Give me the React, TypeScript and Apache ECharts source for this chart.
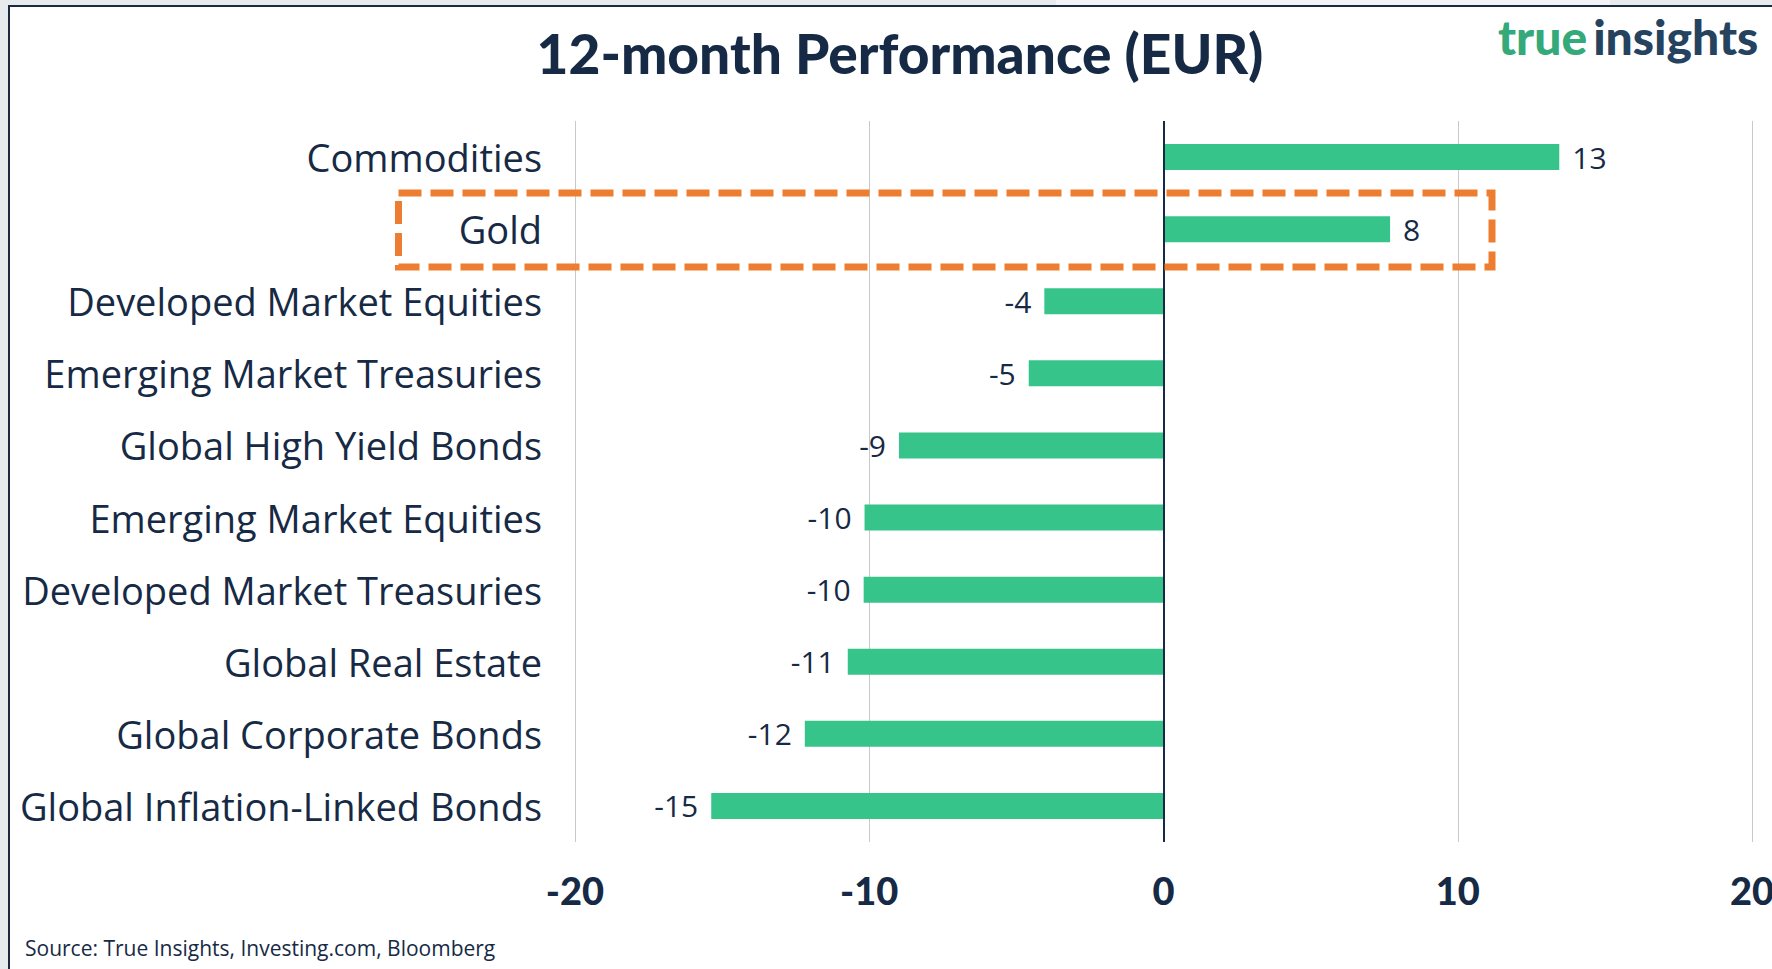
import React, { useEffect, useRef } from "react";
import * as echarts from "echarts";

const categories = [
  "Commodities",
  "Gold",
  "Developed Market Equities",
  "Emerging Market Treasuries",
  "Global High Yield Bonds",
  "Emerging Market Equities",
  "Developed Market Treasuries",
  "Global Real Estate",
  "Global Corporate Bonds",
  "Global Inflation-Linked Bonds",
];
const performance = [13.45, 7.7, -4.05, -4.58, -8.99, -10.16, -10.19, -10.73, -12.19, -15.37];
const axisMin = -20;
const axisMax = 20;
const axisStep = 10;

const NAVY = "#172a45";
const GREEN = "#36c48a";
const FONT = "Open Sans";
const HEAVY = "Lato";

export default function App() {
  const ref = useRef<HTMLDivElement>(null);
  useEffect(() => {
    document.body.style.margin = "0";
    const chart = echarts.init(ref.current!, undefined, { renderer: "svg" });
    chart.setOption({
      animation: false,
      backgroundColor: "#ffffff",
      grid: { left: 575, right: 20, top: 121, height: 721, containLabel: false, outerBoundsMode: "none" },
      xAxis: {
        type: "value",
        min: axisMin,
        max: axisMax,
        interval: axisStep,
        axisLine: { show: false },
        axisTick: { show: false },
        splitLine: { show: true, lineStyle: { color: "#c9c9c9", width: 1 } },
        axisLabel: {
          fontFamily: HEAVY,
          fontWeight: 900,
          fontSize: 38,
          color: NAVY,
          margin: 29,
        },
      },
      yAxis: {
        type: "category",
        inverse: true,
        data: categories,
        axisLine: { show: false },
        axisTick: { show: false },
        splitLine: { show: false },
        axisLabel: { fontFamily: FONT, fontSize: 38, color: NAVY, margin: 33 },
      },
      series: [
        {
          type: "bar",
          barWidth: 26,
          itemStyle: { color: GREEN },
          data: performance.map((v) => ({
            value: v,
            label: { position: v >= 0 ? "right" : "left" },
          })),
          label: {
            show: true,
            distance: 13,
            fontFamily: FONT,
            fontSize: 30,
            color: NAVY,
            formatter: (p: any) => String(Math.round(p.value)),
          },
          markLine: {
            silent: true,
            symbol: "none",
            label: { show: false },
            lineStyle: { color: NAVY, width: 2, type: "solid" },
            data: [{ xAxis: 0 }],
          },
        },
      ],
      graphic: [
        { type: "rect", shape: { x: 0, y: 0, width: 1772, height: 5 }, style: { fill: "#e8ebee" }, silent: true },
        { type: "rect", shape: { x: 1056, y: 0, width: 554, height: 5 }, style: { fill: "#f3f4f6" }, silent: true },
        { type: "rect", shape: { x: 0, y: 0, width: 8, height: 969 }, style: { fill: "#e8ebee" }, silent: true },
        { type: "rect", shape: { x: 8, y: 5, width: 1764, height: 2 }, style: { fill: "#1b2a41" }, silent: true },
        { type: "rect", shape: { x: 8, y: 5, width: 2, height: 964 }, style: { fill: "#1b2a41" }, silent: true },
        {
          type: "text",
          x: 900,
          y: 53,
          style: {
            text: "12-month Performance (EUR)",
            fontFamily: HEAVY,
            fontWeight: 900,
            fontSize: 55,
            fill: NAVY,
            textAlign: "center",
            textVerticalAlign: "middle",
          },
        },
        {
          type: "text",
          x: 1498,
          y: 36,
          style: {
            text: "{a|true}{b|insights}",
            textVerticalAlign: "middle",
            rich: {
              a: { fontFamily: HEAVY, fontWeight: 900, fontSize: 48, fill: "#34a97a", padding: [0, 6, 0, 0] },
              b: { fontFamily: HEAVY, fontWeight: 900, fontSize: 48, fill: "#25425f" },
            },
          },
        },
        {
          type: "text",
          x: 25,
          y: 948,
          style: {
            text: "Source: True Insights, Investing.com, Bloomberg",
            fontFamily: FONT,
            fontSize: 21,
            fill: NAVY,
            textVerticalAlign: "middle",
          },
        },
        {
          type: "rect",
          z: 100,
          shape: { x: 398.5, y: 193, width: 1093.5, height: 74 },
          style: { fill: "none", stroke: "#ed7d31", lineWidth: 7, lineDash: [23, 9] },
          silent: true,
        },
      ],
    });
    return () => chart.dispose();
  }, []);
  return <div ref={ref} style={{ position: "absolute", left: 0, top: 0, width: 1772, height: 969 }} />;
}
